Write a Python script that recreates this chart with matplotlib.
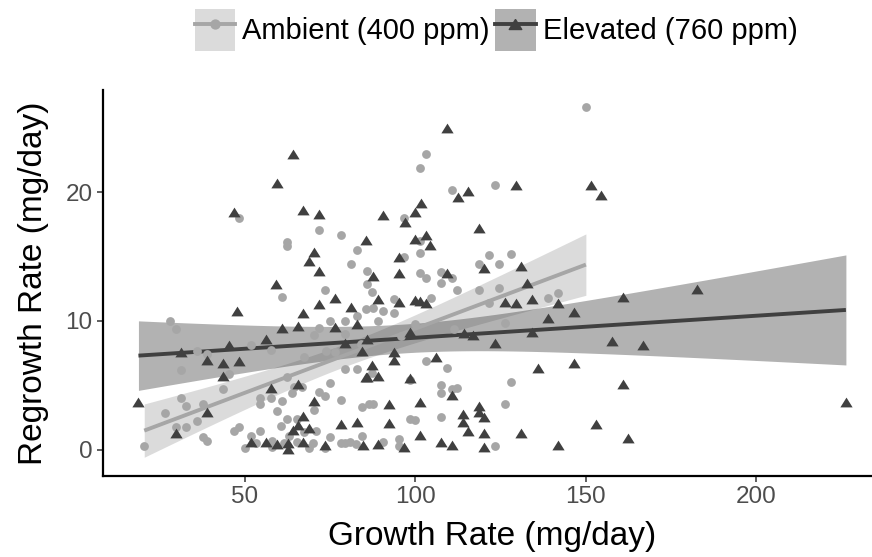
import numpy as np
import matplotlib
matplotlib.use("Agg")
import matplotlib.pyplot as plt
from matplotlib.patches import Patch
from matplotlib.lines import Line2D

plt.rcParams['font.family'] = ['Liberation Sans', 'DejaVu Sans']

# Ambient (400 ppm) - grey circles
amb_growth = [48.2, 103.1, 101.5, 110.9, 123.4, 96.7, 150.1, 28.1, 29.8, 35.9,
              39.0, 45.4, 31.2, 43.7, 31.2, 32.9, 37.6, 26.6, 35.9, 32.9,
              29.7, 37.6, 39.0, 20.5, 46.8, 48.3, 51.7, 57.6, 67.3, 70.3,
              73.7, 76.6, 84.2, 79.5, 82.8, 62.5, 64.4, 66.9, 74.9, 63.9,
              71.7, 73.5, 54.6, 54.6, 57.8, 60.8, 78.1, 59.5, 70.3, 84.4,
              86.4, 62.5, 65.4, 60.5, 70.8, 62.9, 67.3, 84.4, 74.9, 54.6,
              51.7, 50.0, 53.2, 58.1, 61.5, 58.1, 65.4, 68.8, 70.1, 73.5,
              78.1, 79.5, 81.0, 82.5, 71.7, 78.1, 62.5, 62.5, 82.8, 81.2,
              85.9, 85.9, 61.0, 73.5, 87.4, 85.7, 82.8, 79.5, 74.9, 71.7,
              79.5, 101.5, 101.5, 96.6, 121.8, 118.6, 124.5, 101.5, 103.2, 107.7,
              110.8, 107.7, 112.4, 118.6, 124.5, 93.7, 104.7, 121.8, 87.7, 90.6,
              93.7, 89.0, 100.1, 95.7, 111.3, 128.1, 138.9, 142.0, 126.4, 128.1,
              126.4, 123.3, 103.2, 109.3, 87.4, 98.4, 107.7, 107.7, 110.8, 112.4,
              87.5, 98.4, 100.1, 107.7, 90.6, 95.2, 95.2]
amb_regrowth = [18.0, 23.0, 21.9, 20.2, 20.6, 18.0, 26.6, 10.0, 9.4, 7.65,
                7.45, 5.9, 6.15, 4.72, 4.02, 3.42, 3.55, 2.85, 2.2, 1.79,
                1.79, 0.96, 0.7, 0.31, 1.48, 1.74, 8.1, 7.78, 7.18, 8.87,
                7.7, 7.57, 8.2, 6.28, 6.28, 5.63, 4.85, 4.85, 5.19, 4.41,
                4.51, 4.2, 4.02, 3.55, 4.02, 3.81, 3.87, 3.03, 3.1, 3.35,
                3.55, 2.39, 2.39, 1.87, 1.48, 1.09, 1.35, 1.09, 0.96, 1.48,
                1.09, 0.1, 0.52, 0.7, 0.52, 0.18, 0.57, 0.1, 0.52, 0.1,
                0.52, 0.52, 0.57, 0.44, 17.1, 16.65, 16.1, 15.8, 15.5, 14.4,
                13.9, 12.9, 11.9, 12.4, 12.25, 10.9, 10.4, 10.0, 10.0, 9.47,
                8.95, 16.2, 15.3, 14.96, 15.15, 14.45, 14.4, 13.75, 13.3, 13.8,
                13.3, 12.95, 12.4, 12.4, 12.6, 11.7, 11.8, 11.4, 11.0, 10.8,
                10.6, 10.0, 9.8, 8.8, 9.4, 15.2, 11.8, 12.2, 9.86, 5.24,
                3.55, 0.26, 6.87, 6.36, 5.97, 5.4, 5.06, 4.38, 4.72, 4.77,
                3.55, 2.39, 2.33, 2.52, 0.62, 0.83, 0.31]

# Elevated (760 ppm) - dark triangles
elev_growth = [46.8, 64.1, 59.4, 67.2, 71.8, 109.3, 115.6, 112.5, 101.6, 100.1,
               90.6, 96.9, 129.6, 151.5, 154.6, 47.8, 45.4, 31.2, 39.0, 43.7,
               48.2, 43.7, 18.8, 39.0, 29.7, 56.1, 79.5, 84.4, 85.7, 65.7,
               57.8, 70.3, 67.2, 65.7, 64.1, 68.8, 78.1, 82.8, 51.7, 56.1,
               59.5, 62.6, 62.6, 67.2, 73.5, 84.6, 85.7, 70.3, 68.8, 71.7,
               59.3, 76.6, 71.7, 81.2, 67.2, 82.8, 61.0, 65.7, 76.6, 85.8,
               118.6, 99.9, 103.2, 104.5, 95.2, 120.3, 87.7, 95.2, 109.3, 89.0,
               95.4, 99.9, 101.5, 103.2, 98.6, 114.2, 117.1, 123.5, 131.1, 132.8,
               126.4, 129.6, 134.3, 142.0, 146.7, 138.9, 160.9, 182.8, 134.3, 157.7,
               167.0, 136.0, 146.7, 160.9, 226.4, 153.1, 131.1, 142.0, 162.4, 93.7,
               93.7, 106.2, 87.4, 85.9, 89.0, 98.4, 110.8, 92.2, 101.5, 114.0,
               114.0, 118.6, 118.6, 120.3, 92.2, 115.4, 120.3, 101.5, 89.0, 96.6,
               107.7, 110.8, 120.3]
elev_regrowth = [18.5, 22.96, 20.7, 18.6, 18.3, 25.0, 20.1, 19.6, 19.2, 18.5,
                 18.2, 17.7, 20.6, 20.6, 19.8, 10.8, 8.15, 7.57, 7.0, 6.75,
                 6.9, 5.76, 3.68, 2.9, 1.27, 8.58, 8.25, 7.7, 5.63, 5.1,
                 4.8, 3.76, 2.65, 1.92, 1.56, 1.66, 2.0, 2.18, 0.57, 0.57,
                 0.44, 0.52, 0.05, 0.62, 0.37, 0.37, 16.3, 15.35, 14.65, 13.9,
                 12.9, 11.8, 11.3, 11.1, 10.6, 9.78, 9.47, 9.57, 9.52, 8.6,
                 17.2, 16.4, 16.65, 15.9, 15.0, 14.1, 13.5, 13.75, 13.7, 11.7,
                 11.5, 11.65, 11.55, 11.4, 9.13, 9.05, 8.87, 8.3, 14.25, 12.95,
                 11.5, 11.4, 11.7, 11.4, 10.7, 10.2, 11.85, 12.5, 9.13, 8.45,
                 8.15, 6.35, 6.7, 5.1, 3.68, 2.0, 1.27, 0.37, 0.88, 7.57,
                 7.0, 7.18, 6.61, 5.68, 5.76, 5.55, 4.26, 3.55, 3.68, 2.78,
                 2.13, 3.42, 2.96, 2.57, 2.05, 1.48, 1.27, 1.14, 0.44, 0.18,
                 0.62, 0.37, 0.23]

groups = ["Ambient (400 ppm)", "Elevated (760 ppm)"]
point_colors = ["#A6A6A6", "#404040"]

tri = [(0, 0.8), (-1, -0.8), (1, -0.8), (0, 0.8)]


def lm_band(x, y, t975=1.978):
    # straight-line fit with 95% confidence band, like geom_smooth(method = "lm")
    x = np.asarray(x)
    y = np.asarray(y)
    n = len(x)
    b, a = np.polyfit(x, y, 1)
    resid = y - (a + b * x)
    s = np.sqrt(np.sum(resid ** 2) / (n - 2))
    sxx = np.sum((x - x.mean()) ** 2)
    xs = np.linspace(x.min(), x.max(), 80)
    fit = a + b * xs
    se = s * np.sqrt(1 / n + (xs - x.mean()) ** 2 / sxx)
    return xs, fit, fit - t975 * se, fit + t975 * se


fig = plt.figure(figsize=(8.72, 5.57), dpi=100)
ax = fig.add_axes([103 / 872, 81 / 557, (881 - 103) / 872, (476 - 90) / 557])

data = [(amb_growth, amb_regrowth), (elev_growth, elev_regrowth)]
for (gx, gy), col in zip(data, point_colors):
    xs, fit, lo, hi = lm_band(gx, gy)
    ax.fill_between(xs, lo, hi, color=col, alpha=0.4, lw=0, zorder=1)
    ax.plot(xs, fit, color=col, lw=2.8, zorder=2, solid_capstyle="butt")

ax.scatter(amb_growth, amb_regrowth, s=40, color=point_colors[0], lw=0, zorder=3)
ax.scatter(elev_growth, elev_regrowth, s=78, marker=tri, color=point_colors[1], lw=0, zorder=4)

ax.set_xlim(8.4, 236.7)
ax.set_ylim(-2.05, 27.95)
ax.set_xticks([50, 100, 150, 200])
ax.set_yticks([0, 10, 20])
ax.tick_params(labelsize=17.5, labelcolor="#4D4D4D", color="#333333", length=4, width=1.1)
for side in ["top", "right"]:
    ax.spines[side].set_visible(False)
for side in ["left", "bottom"]:
    ax.spines[side].set_linewidth(1.6)
ax.set_xlabel("Growth Rate (mg/day)", fontsize=24, labelpad=9)
ax.set_ylabel("Regrowth Rate (mg/day)", fontsize=24, labelpad=12)

handles = []
markers = ["o", tri]
msizes = [6.4, 9]
for col, mk, ms in zip(point_colors, markers, msizes):
    handles.append((Patch(facecolor=col, alpha=0.4, lw=0),
                    Line2D([], [], color=col, lw=2.8),
                    Line2D([], [], color=col, lw=0, marker=mk, markersize=ms)))
fig.legend(handles, groups, loc="center", bbox_to_anchor=(496 / 872, 1 - 30 / 557), ncol=2, frameon=False,
           fontsize=21, handlelength=1.38, handleheight=1.85, handletextpad=0.24, columnspacing=0.2,
           borderpad=0)

fig.savefig("out.png", dpi=100)
